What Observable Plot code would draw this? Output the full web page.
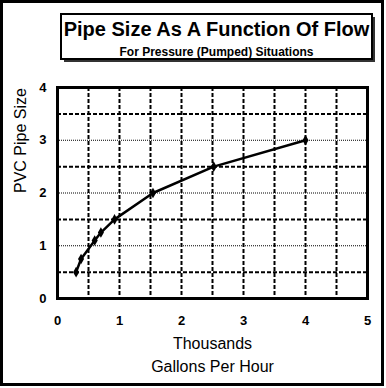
<!DOCTYPE html>
<html><head><meta charset="utf-8">
<script src="https://cdn.jsdelivr.net/npm/d3@7"></script>
<script src="https://cdn.jsdelivr.net/npm/@observablehq/plot@0.6"></script>
<style>body{margin:0;background:#fff} svg{display:block}</style>
</head><body><div id="chart"></div>
<script>
// Data
const flowThousands = [0.30, 0.38, 0.60, 0.70, 0.92, 1.54, 2.52, 4.00];
const pipeSize = [0.5, 0.75, 1.1, 1.25, 1.5, 2.0, 2.5, 3.0];
const xTicks = [0, 1, 2, 3, 4, 5];
const yTicks = [0, 1, 2, 3, 4];
const xGrid = [0.5, 1, 1.5, 2, 2.5, 3, 3.5, 4, 4.5];
const yGridMajor = [0.5, 1.5, 2.5, 3.5];
const yGridMinor = [1, 2, 3];
const titleText = "Pipe Size As A Function Of Flow";
const subtitleText = "For Pressure (Pumped) Situations";
const yLabel = "PVC Pipe Size";
const xLabel1 = "Thousands";
const xLabel2 = "Gallons Per Hour";

const data = flowThousands.map((x, i) => ({x, y: pipeSize[i]}));
const font = "'Liberation Sans', Arial, sans-serif";

const plot = Plot.plot({
  width: 386, height: 388,
  marginLeft: 57, marginRight: 19, marginTop: 87, marginBottom: 90,
  style: {fontFamily: font, background: "white", color: "black"},
  x: {domain: [0, 5]},
  y: {domain: [0, 4]},
  marks: [
    Plot.ruleY(yGridMinor, {stroke: "black", strokeWidth: 1, strokeDasharray: "1,1"}),
    Plot.ruleY(yGridMajor, {stroke: "black", strokeWidth: 2, strokeDasharray: "4,2"}),
    Plot.ruleX(xGrid, {stroke: "black", strokeWidth: 2, strokeDasharray: "4,2"}),
    Plot.frame({stroke: "black", strokeWidth: 3}),
    Plot.axisX({ticks: xTicks, tickSize: 0, tickPadding: 17, fontSize: 13, fontWeight: "bold", label: null, tickFormat: d => String(d)}),
    Plot.axisY({ticks: yTicks, tickSize: 0, tickPadding: 11, fontSize: 13, fontWeight: "bold", label: null, tickFormat: d => String(d)}),
    Plot.line(data, {x: "x", y: "y", stroke: "black", strokeWidth: 2.5}),
    Plot.dot(data, {x: "x", y: "y", symbol: "diamond", r: 3.2, fill: "black", stroke: "none"}),
    Plot.text([xLabel1], {text: d => d, frameAnchor: "bottom", dy: 45, fontSize: 16, lineAnchor: "middle"}),
    Plot.text([xLabel2], {text: d => d, frameAnchor: "bottom", dy: 68, fontSize: 16, lineAnchor: "middle"}),
    Plot.text([yLabel], {text: d => d, frameAnchor: "left", dx: -37, rotate: -90, fontSize: 16, lineAnchor: "middle"}),
    Plot.text([titleText], {text: d => d, frameAnchor: "top", dx: 4, dy: -58, fontSize: 20, fontWeight: "bold", lineAnchor: "middle"}),
    Plot.text([subtitleText], {text: d => d, frameAnchor: "top", dx: 4, dy: -35, fontSize: 12, fontWeight: "bold", lineAnchor: "middle"})
  ]
});

const svg = d3.select(plot);
// title box (behind everything) and outer border
svg.insert("rect", ":first-child").attr("x", 61).attr("y", 14).attr("width", 311).attr("height", 45)
  .attr("fill", "white").attr("stroke", "black").attr("stroke-width", 2);
svg.insert("rect", ":first-child").attr("x", 64).attr("y", 17).attr("width", 311).attr("height", 45)
  .attr("fill", "#333");
svg.append("rect").attr("x", 1.5).attr("y", 1.5).attr("width", 381).attr("height", 383)
  .attr("fill", "none").attr("stroke", "black").attr("stroke-width", 3);

document.getElementById("chart").appendChild(plot);
</script>
</body></html>
